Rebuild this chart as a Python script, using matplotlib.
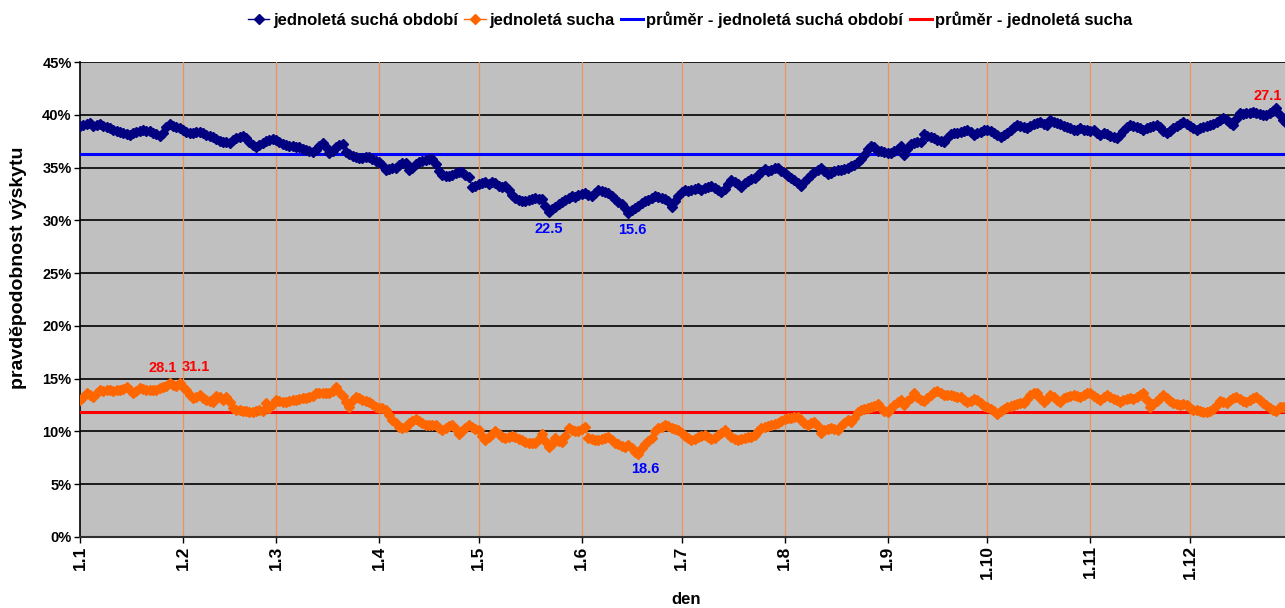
import numpy as np
import matplotlib.pyplot as plt

plt.rcParams['font.family'] = ['Liberation Sans', 'DejaVu Sans']
plt.rcParams['font.weight'] = 'bold'

# kalendar (nepřestupný rok) a popisky osy x
delky_mesicu = [31, 28, 31, 30, 31, 30, 31, 31, 30, 31, 30, 31]
popisky_x = ['1.1', '1.2', '1.3', '1.4', '1.5', '1.6', '1.7', '1.8', '1.9', '1.10', '1.11', '1.12']

# jednoletá suchá období [%] - denní hodnoty po měsících
obdobi = (
    # leden
    [38.9, 39.0, 39.1, 39.2, 38.9, 39.0, 39.1, 38.9, 38.8, 38.7, 38.6, 38.5, 38.4, 38.3, 38.2, 38.1,
     38.3, 38.4, 38.5, 38.6, 38.5, 38.5, 38.3, 38.2, 38.0, 38.3, 38.8, 39.1, 38.9, 38.8, 38.7]
    # unor
    + [38.6, 38.4, 38.3, 38.3, 38.4, 38.4, 38.3, 38.1, 38.0, 37.9, 37.7, 37.5, 37.4, 37.4, 37.3, 37.6,
       37.8, 37.9, 38.0, 37.8, 37.4, 37.1, 36.9, 37.1, 37.3, 37.5, 37.6, 37.7]
    # brezen
    + [37.6, 37.4, 37.2, 37.1, 37.0, 37.0, 36.9, 36.9, 36.8, 36.7, 36.6, 36.5, 36.7, 37.0, 37.3, 36.9,
       36.4, 36.6, 36.9, 37.1, 37.2, 36.5, 36.3, 36.1, 36.0, 35.9, 35.9, 36.0, 36.0, 35.8, 35.6]
    # duben
    + [35.5, 35.2, 34.8, 34.9, 35.0, 35.0, 35.2, 35.4, 35.4, 34.8, 35.0, 35.3, 35.5, 35.6, 35.7, 35.8,
       35.8, 35.3, 34.7, 34.3, 34.2, 34.2, 34.3, 34.5, 34.6, 34.6, 34.3, 34.1, 33.2, 33.3]
    # kveten
    + [33.4, 33.5, 33.6, 33.4, 33.6, 33.5, 33.3, 33.2, 33.3, 32.9, 32.4, 32.1, 31.9, 31.8, 31.8, 31.9,
       32.0, 32.1, 32.0, 32.0, 31.4, 30.8, 31.1, 31.3, 31.5, 31.7, 31.9, 32.1, 32.3, 32.2, 32.4]
    # cerven
    + [32.5, 32.6, 32.4, 32.3, 32.6, 32.9, 32.8, 32.7, 32.6, 32.3, 32.0, 31.7, 31.5, 31.2, 30.7, 31.0,
       31.2, 31.4, 31.6, 31.8, 31.9, 32.1, 32.3, 32.2, 32.1, 32.0, 31.8, 31.3, 31.8, 32.3]
    # cervenec
    + [32.7, 32.9, 32.8, 32.9, 33.0, 33.1, 32.9, 33.1, 33.2, 33.3, 33.1, 32.9, 32.7, 33.0, 33.4, 33.8,
       33.6, 33.4, 33.2, 33.5, 33.7, 33.9, 34.0, 34.3, 34.6, 34.9, 34.7, 34.8, 35.0, 35.0, 34.7]
    # srpen
    + [34.5, 34.2, 34.0, 33.8, 33.5, 33.3, 33.6, 34.0, 34.3, 34.6, 34.8, 35.0, 34.7, 34.4, 34.5, 34.7,
       34.8, 34.8, 34.9, 35.0, 35.1, 35.2, 35.5, 35.8, 36.2, 36.8, 37.0, 36.9, 36.6, 36.6, 36.5]
    # zari
    + [36.4, 36.4, 36.6, 36.8, 37.0, 36.2, 36.8, 37.2, 37.3, 37.4, 37.4, 38.2, 38.0, 37.9, 37.8, 37.6,
       37.5, 37.4, 37.8, 38.2, 38.3, 38.3, 38.4, 38.5, 38.6, 38.4, 38.1, 38.3, 38.4, 38.6]
    # rijen
    + [38.6, 38.5, 38.3, 38.1, 37.9, 38.1, 38.3, 38.6, 38.8, 39.0, 38.9, 38.8, 38.7, 38.9, 39.1, 39.2,
       39.3, 39.1, 39.0, 39.5, 39.3, 39.2, 39.1, 38.9, 38.8, 38.7, 38.6, 38.6, 38.7, 38.6, 38.6]
    # listopad
    + [38.5, 38.6, 38.3, 38.1, 38.3, 38.2, 38.0, 37.9, 37.8, 38.1, 38.5, 38.8, 39.0, 38.9, 38.8, 38.7,
       38.6, 38.7, 38.8, 38.9, 39.0, 38.8, 38.5, 38.3, 38.5, 38.7, 38.9, 39.1, 39.3, 39.1]
    # prosinec
    + [38.9, 38.7, 38.6, 38.7, 38.8, 38.9, 39.0, 39.1, 39.3, 39.5, 39.7, 39.5, 39.2, 39.0, 39.6, 40.2,
       40.1, 40.2, 40.2, 40.3, 40.2, 40.1, 40.0, 40.0, 40.2, 40.4, 40.6, 40.0, 39.5, 39.2, 39.0]
)

# jednoletá sucha [%]
sucha = (
    [13.0, 13.3, 13.6, 13.5, 13.3, 13.6, 13.9, 13.8, 13.9, 13.9, 13.8, 13.9, 13.9, 14.0, 14.2, 13.9,
     13.6, 13.8, 14.1, 14.0, 13.9, 13.9, 13.9, 13.9, 14.1, 14.2, 14.3, 14.6, 14.4, 14.3, 14.6]
    + [14.2, 13.9, 13.5, 13.2, 13.3, 13.5, 13.2, 13.0, 12.9, 12.8, 13.4, 13.3, 13.0, 13.3, 12.8, 12.2,
       12.0, 12.0, 11.9, 11.9, 11.8, 11.8, 11.9, 12.0, 11.9, 12.7, 12.2, 12.6]
    + [13.0, 12.9, 12.8, 12.8, 12.9, 13.0, 13.0, 13.1, 13.2, 13.2, 13.3, 13.4, 13.6, 13.6, 13.6, 13.6,
       13.6, 13.8, 14.2, 13.7, 13.4, 12.8, 12.3, 13.0, 13.3, 13.2, 13.0, 12.9, 12.8, 12.6, 12.3]
    + [12.2, 12.2, 12.0, 11.6, 11.1, 10.8, 10.4, 10.3, 10.4, 10.8, 11.0, 11.2, 11.0, 10.8, 10.6, 10.6,
       10.6, 10.6, 10.3, 10.1, 10.3, 10.5, 10.6, 10.2, 9.8, 10.0, 10.3, 10.6, 10.4, 10.2]
    + [10.1, 9.6, 9.2, 9.5, 9.8, 10.0, 9.8, 9.5, 9.4, 9.5, 9.6, 9.5, 9.3, 9.2, 9.0, 8.9,
       8.9, 8.9, 9.3, 9.8, 9.1, 8.5, 8.8, 9.4, 9.1, 9.0, 9.6, 10.3, 10.1, 10.0, 10.0]
    + [10.2, 10.4, 9.4, 9.3, 9.2, 9.2, 9.3, 9.4, 9.5, 9.2, 8.9, 8.8, 8.6, 8.5, 8.7, 8.4,
       8.1, 7.9, 8.4, 8.8, 9.1, 9.4, 10.0, 10.3, 10.4, 10.6, 10.5, 10.3, 10.2, 10.1]
    + [9.9, 9.6, 9.4, 9.2, 9.3, 9.5, 9.6, 9.7, 9.5, 9.3, 9.4, 9.7, 9.9, 10.1, 9.8, 9.5,
       9.3, 9.2, 9.3, 9.4, 9.5, 9.5, 9.7, 10.0, 10.3, 10.4, 10.5, 10.6, 10.7, 10.8, 11.0]
    + [11.2, 11.3, 11.3, 11.4, 11.4, 11.1, 10.8, 10.6, 10.8, 10.9, 10.5, 9.9, 10.1, 10.2, 10.3, 10.2,
       10.1, 10.5, 10.8, 11.1, 10.9, 11.3, 11.8, 12.0, 12.1, 12.2, 12.3, 12.4, 12.6, 12.2, 11.9]
    + [11.8, 12.2, 12.5, 12.8, 13.0, 12.5, 12.9, 13.2, 13.6, 13.3, 13.0, 12.9, 13.2, 13.5, 13.7, 13.8,
       13.6, 13.5, 13.5, 13.5, 13.4, 13.3, 13.3, 13.0, 12.8, 12.9, 13.1, 13.0, 12.7, 12.4]
    + [12.3, 12.1, 11.9, 11.7, 11.9, 12.1, 12.3, 12.4, 12.5, 12.6, 12.7, 12.7, 13.1, 13.5, 13.6, 13.6,
       13.2, 12.8, 13.1, 13.5, 13.3, 13.0, 12.8, 13.2, 13.3, 13.4, 13.5, 13.4, 13.3, 13.5, 13.6]
    + [13.6, 13.4, 13.2, 13.0, 13.3, 13.5, 13.3, 13.1, 13.0, 12.8, 13.0, 13.1, 13.2, 13.1, 13.3, 13.5,
       13.6, 13.0, 12.3, 12.6, 12.9, 13.2, 13.5, 13.2, 12.9, 12.7, 12.6, 12.5, 12.6, 12.5]
    + [12.2, 12.0, 12.0, 11.9, 11.8, 11.8, 11.9, 12.1, 12.5, 12.9, 12.8, 12.7, 13.0, 13.2, 13.3, 13.1,
       12.9, 12.8, 13.0, 13.2, 13.3, 13.0, 12.7, 12.5, 12.2, 12.0, 11.9, 12.3, 12.3, 12.2, 12.3]
)

# popisky extrémů: text a datum bodu (den.měsíc)
min_obdobi_text = ['22.5', '15.6']
min_obdobi_datum = ['22.5', '15.6']
max_obdobi_text = ['27.1']
max_obdobi_datum = ['27.12']
min_sucha_text = ['18.6']
min_sucha_datum = ['18.6']
max_sucha_text = ['28.1', '31.1']
max_sucha_datum = ['28.1', '31.1']

zacatky = np.concatenate([[0], np.cumsum(delky_mesicu)[:-1]])
dny = np.arange(sum(delky_mesicu))
obdobi = np.array(obdobi) / 100
sucha = np.array(sucha) / 100


def index_dne(s):
    d, m = s.split('.')
    return zacatky[int(m) - 1] + int(d) - 1


fig = plt.figure(figsize=(12.85, 6.08), dpi=100)
ax = fig.add_axes([80 / 1285, 1 - 537 / 608, 1 - 80 / 1285, (537 - 62) / 608])
ax.set_facecolor('#C0C0C0')

l1, = ax.plot(dny, obdobi, color='#000080', lw=1, marker='D', ms=5, zorder=4,
              label='jednoletá suchá období')
l2, = ax.plot(dny, sucha, color='#FF6600', lw=1, marker='D', ms=5, zorder=4,
              label='jednoletá sucha')
l3 = ax.axhline(obdobi.mean(), color='#0000FF', lw=2.2, zorder=3,
                label='průměr - jednoletá suchá období')
l4 = ax.axhline(sucha.mean(), color='#FF0000', lw=2.2, zorder=3,
                label='průměr - jednoletá sucha')

popisky = [(min_obdobi_text, min_obdobi_datum, obdobi, '#0000FF', [(0, -17), (4, -17)]),
           (max_obdobi_text, max_obdobi_datum, obdobi, '#FF0000', [(-9, 12)]),
           (min_sucha_text, min_sucha_datum, sucha, '#0000FF', [(7, -15)]),
           (max_sucha_text, max_sucha_datum, sucha, '#FF0000', [(-7, 15), (16, 16)])]
for texty, data, serie, barva, posuny in popisky:
    for t, d, (dx, dy) in zip(texty, data, posuny):
        i = index_dne(d)
        ax.annotate(t, (dny[i], serie[i]), xytext=(dx, dy), textcoords='offset pixels',
                    ha='center', va='center', color=barva, fontsize=10.5, fontweight='bold',
                    zorder=5, annotation_clip=False)

ax.set_ylim(0, 0.45)
ax.set_yticks(np.arange(0, 0.451, 0.05))
ax.set_yticklabels([f'{int(round(v * 100))}%' for v in np.arange(0, 0.451, 0.05)])
ax.set_xlim(0, 362.6)
ax.set_xticks(zacatky)
ax.set_xticklabels(popisky_x, rotation=90)
ax.tick_params(axis='y', labelsize=10.5, length=4, width=1, pad=2, colors='black')
ax.tick_params(axis='x', labelsize=12.5, length=4, width=1, pad=2, colors='black')

ax.grid(axis='y', color='black', lw=1.2, zorder=1)
for z in zacatky[1:]:
    ax.axvline(z, color='#E8955F', lw=0.9, zorder=1)
ax.set_axisbelow(True)

for s in ['top', 'right']:
    ax.spines[s].set_visible(False)
ax.spines['left'].set_linewidth(1.2)
ax.spines['bottom'].set_linewidth(1.5)
ax.spines['bottom'].set_color('#303030')

ax.set_xlabel('den', fontsize=12, fontweight='bold')
ax.xaxis.set_label_coords((686 - 80) / 1205, (537 - 592) / 475)
ax.set_ylabel('pravděpodobnost výskytu', fontsize=14, fontweight='bold')
ax.yaxis.set_label_coords((27 - 80) / 1205, (537 - 268) / 475)

fig.legend(handles=[l1, l2, l3, l4], loc='center', bbox_to_anchor=(0.537, 0.968), ncol=4,
           frameon=False, handlelength=1.3, handletextpad=0.2, columnspacing=0.4,
           prop={'weight': 'bold', 'size': 12})

fig.savefig('out.png', dpi=100)
